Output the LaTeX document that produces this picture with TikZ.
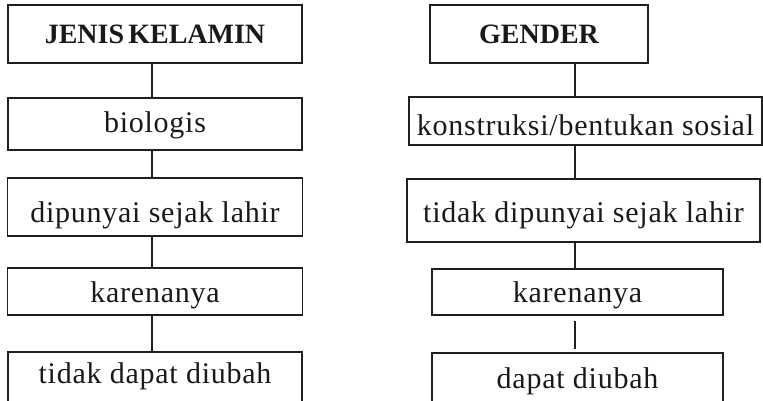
\documentclass[tikz,border=0pt]{standalone}
\usepackage{fontspec}
\setmainfont{Liberation Serif}
\newfontfamily\bodyfont{Liberation Serif}[LetterSpace=2.5]
\newfontfamily\headfont{Liberation Serif}[WordSpace=0.6]
\begin{document}
\begin{tikzpicture}[x=0.75pt,y=-0.75pt,
  ink/.style={draw=black!88},
  box/.style 2 args={ink, line width=1.3pt, rectangle, inner sep=0pt,
    minimum width=#1*0.75pt, minimum height=#2*0.75pt,
    text height=22.5pt, text=black!90,
    font=\bodyfont\fontsize{22.5}{27}\selectfont},
  headbox/.style 2 args={box={#1}{#2},
    font=\headfont\bfseries\fontsize{21}{25}\selectfont},
  link/.style={ink, line width=1.3pt}]
\useasboundingbox (0,0) rectangle (763,400);
\clip (0,0) rectangle (763,400);

% column: Jenis Kelamin
\coordinate (cL) at (152,0);
\node[headbox={294}{58}, text depth=9pt]     (L1) at (155,34)    {JENIS KELAMIN};
\node[box={294}{52}, text depth=10.5pt]      (L2) at (155,124)   {biologis};
\node[box={295}{58}, text depth=0pt]         (L3) at (155,207)   {dipunyai sejak lahir};
\node[box={295}{47}, text depth=6.75pt]      (L4) at (155,291.5) {karenanya};
\node[box={294}{50}, text depth=13.5pt]      (L5) at (155,377)   {tidak dapat diubah};

\draw[link] (L1.south -| cL) -- (L2.north -| cL);
\draw[link] (L2.south -| cL) -- (L3.north -| cL);
\draw[link] (L3.south -| cL) -- (L4.north -| cL);
\draw[link] (L4.south -| cL) -- (L5.north -| cL);

% column: Gender
\coordinate (cR) at (575,0);
\node[headbox={218}{58}, text depth=9pt]     (R1) at (539,34)    {GENDER};
\node[box={353}{48}, text depth=1.5pt]       (R2) at (585.5,121) {konstruksi/bentukan sosial};
\node[box={353}{63}, text depth=5.25pt]      (R3) at (583.5,210.5) {tidak dipunyai sejak lahir};
\node[box={291}{46}, text depth=7.5pt]       (R4) at (577.5,292) {karenanya};
\node[box={291}{50}, text depth=7.5pt]       (R5) at (577.5,378) {dapat diubah};

\draw[link] (R1.south -| cR) -- (R2.north -| cR);
\draw[link] (R2.south -| cR) -- (R3.north -| cR);
\draw[link] (R3.south -| cR) -- (R4.north -| cR);
\draw[link, shorten <=3.75pt, shorten >=2.25pt] (R4.south -| cR) -- (R5.north -| cR);
\end{tikzpicture}
\end{document}
